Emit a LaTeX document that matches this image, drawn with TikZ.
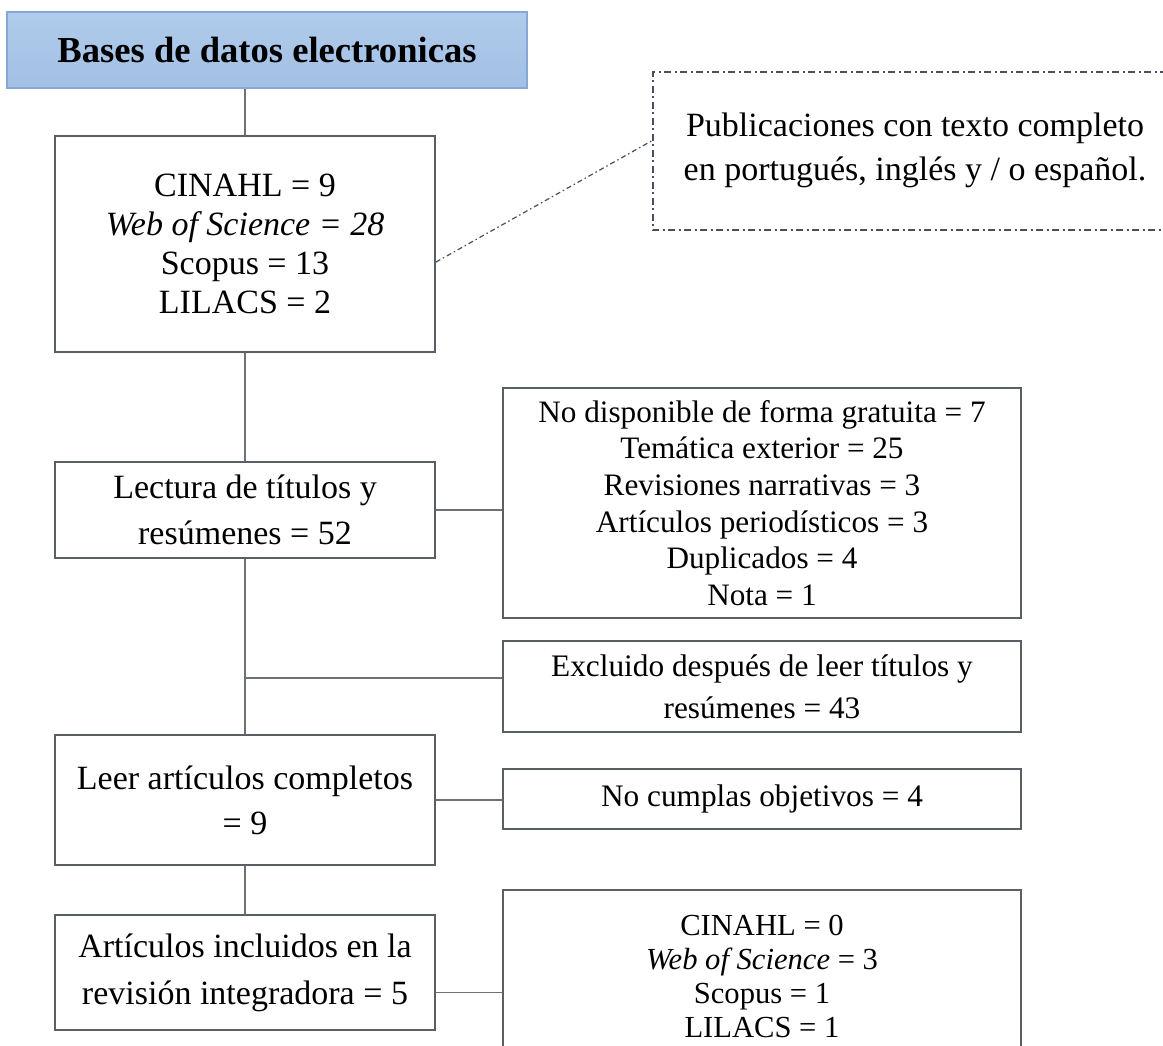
\documentclass[tikz,border=0pt]{standalone}
\usepackage{fontspec}
\setmainfont{Liberation Serif}
\usetikzlibrary{calc}
\definecolor{boxline}{HTML}{5A5F66}
\definecolor{conline}{HTML}{6E7278}
\definecolor{hdrtop}{HTML}{B0CBEB}
\definecolor{hdrbot}{HTML}{A2C0E4}
\definecolor{hdrline}{HTML}{86A8D3}
\definecolor{dashcol}{HTML}{46505E}
\tikzset{
  flowbox/.style={draw=boxline, line width=1.8pt, fill=white, inner sep=0pt, align=center, anchor=center},
  leftbox/.style={flowbox, minimum width=380pt},
  rightbox/.style={flowbox, minimum width=518pt},
  conn/.style={draw=conline, line width=1.4pt},
  dashdotline/.style={draw=dashcol, line width=2pt, dash pattern=on 7pt off 3.5pt on 2pt off 3.5pt},
  hdr/.style={draw=hdrline, line width=1.5pt, top color=hdrtop, bottom color=hdrbot, inner sep=0pt,
    minimum width=520pt, minimum height=76pt, font=\bfseries\fontsize{36.6}{40}\selectfont}
}
\begin{document}
\begin{tikzpicture}[x=1pt,y=-1pt]
\useasboundingbox[fill=white] (0,0) rectangle (1163,1046);

% header
\node[hdr] (hdr) at (267,50) {Bases de datos electronicas};

% left column
\node[leftbox, minimum height=216pt, font=\fontsize{34}{39}\selectfont] (b1) at (245,244)
  {CINAHL = 9\\ \textit{Web of Science = 28}\\ Scopus = 13\\ LILACS = 2};
\node[leftbox, minimum height=96pt, font=\fontsize{34}{46}\selectfont] (b2) at (245,510)
  {Lectura de títulos y\\ resúmenes = 52};
\node[leftbox, minimum height=130pt, font=\fontsize{34}{45}\selectfont] (b4) at (245,800)
  {Leer artículos completos\\ = 9};
\node[leftbox, minimum height=115pt, font=\fontsize{34}{47}\selectfont] (b7) at (245,972.5)
  {Artículos incluidos en la\\ revisión integradora = 5};

% right column
\node[rightbox, minimum height=230pt, font=\fontsize{31.2}{36.6}\selectfont] (b3) at (762,503)
  {No disponible de forma gratuita = 7\\ Temática exterior = 25\\ Revisiones narrativas = 3\\
   Artículos periodísticos = 3\\ Duplicados = 4\\ Nota = 1};
\node[rightbox, minimum height=91pt, font=\fontsize{31.3}{42}\selectfont] (b5) at (762,686.5)
  {Excluido después de leer títulos y\\ resúmenes = 43};
\node[rightbox, minimum height=60pt, font=\fontsize{31.3}{36}\selectfont] (b6) at (762,799)
  {No cumplas objetivos = 4};
\node[rightbox, minimum height=172pt, font=\fontsize{30.6}{34}\selectfont] (b8) at (762,976)
  {CINAHL = 0\\ \textit{Web of Science} = 3\\ Scopus = 1\\ LILACS = 1};

% dash-dot note box (open to the right)
\node[inner sep=0pt, minimum width=530pt, minimum height=158pt, anchor=north west] (note) at (653,72) {};
\node[inner sep=0pt, align=center, font=\fontsize{34}{44}\selectfont] (notetext) at (915,150)
  {Publicaciones con texto completo\\ en portugués, inglés y / o español.};
\path[dashdotline] (note.north east) -- (note.north west) -- (note.south west) -- (note.south east);

% connectors
\path[conn] (hdr.south -| b1.north) -- (b1.north);
\path[conn] (b1.south) -- (b2.north);
\path[conn] (b2.east) -- (b2.east -| b3.west);
\path[conn] (b2.south) -- (b4.north);
\coordinate (j5) at ($(b2.south)!0.68!(b4.north)$);
\path[conn] (j5) -- (j5 -| b5.west);
\path[conn] (b4.east) -- (b4.east -| b6.west);
\path[conn] (b4.south) -- (b7.north);
\coordinate (j8) at ($(b7.north east)!0.67!(b7.south east)$);
\path[conn] (j8) -- (j8 -| b8.west);
\path[dashdotline, line width=1.2pt, dash pattern=on 5pt off 3pt on 1.5pt off 3pt] ($(b1.north east)!0.583!(b1.south east)$) -- ($(note.north west)!0.43!(note.south west)$);
\end{tikzpicture}
\end{document}
